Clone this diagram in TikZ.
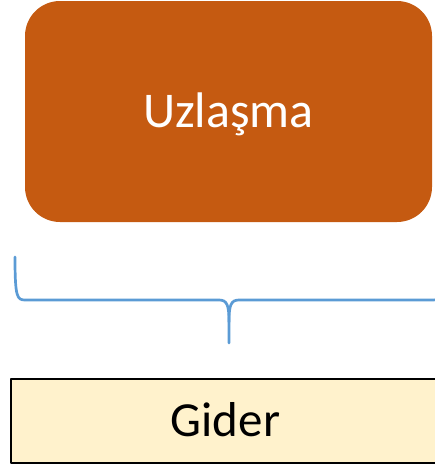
\documentclass[tikz,border=0pt]{standalone}
\usepackage{fontspec}
\setmainfont{Carlito}
\usepackage{tikz}
\usetikzlibrary{positioning}

\definecolor{uzorange}{HTML}{C55A11}
\definecolor{gdyellow}{HTML}{FFF2CC}
\definecolor{brblue}{HTML}{5B9BD5}

\begin{document}
\begin{tikzpicture}[
  x=1pt,
  y=-1pt,
  line cap=round,
  line join=round,
  bigbox/.style={
    rectangle,
    rounded corners=35pt,
    minimum width=407pt,
    minimum height=221pt,
    fill=uzorange,
    draw=none,
    text=white,
    font=\fontsize{50}{60}\selectfont,
    text height=31.6pt,
    text depth=0pt,
    align=center
  },
  basebox/.style={
    rectangle,
    minimum width=429pt,
    minimum height=84pt,
    fill=gdyellow,
    draw=black,
    line width=1.6pt,
    text=black,
    font=\fontsize{49}{59}\selectfont,
    text height=31pt,
    text depth=0pt,
    align=center
  },
  bracket/.style={
    draw=brblue,
    line width=2.7pt
  }
]

\useasboundingbox (0,0) rectangle (435,466);

\node[bigbox] (U) at (228.5, 111.5) {Uzlaşma};
\node[basebox] (G) at (225.5, 421) {Gider};

% brace between the two boxes
\coordinate (bl) at (15, 257);
\coordinate (br) at (443, 257);
\coordinate (bt) at (229, 343);
\draw[bracket] (bl) .. controls (15,297) and (17,300) .. (25,300)
  -- (219,300) .. controls (227,300) and (229,305) .. (229,322) -- (bt);
\draw[bracket] (229,322) .. controls (229,305) and (231,300) .. (239,300)
  -- (433,300) .. controls (441,300) and (443,297) .. (br);

\end{tikzpicture}
\end{document}
